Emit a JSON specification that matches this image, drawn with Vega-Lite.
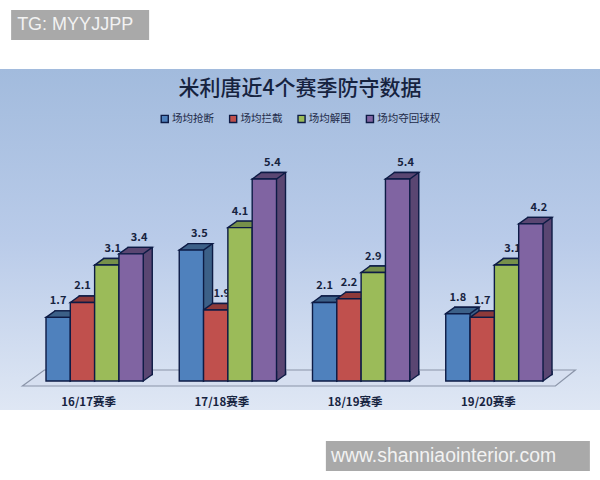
{
  "$schema": "https://vega.github.io/schema/vega-lite/v6.json",
  "width": 600,
  "height": 480,
  "padding": 0,
  "autosize": {"type": "fit", "contains": "padding"},
  "background": "white",
  "view": {"stroke": null},
  "config": {"axisY": {"disable": true}},
  "title": {
    "text": "米利唐近4个赛季防守数据",
    "font": "Noto Sans CJK SC",
    "fontSize": 21,
    "fontWeight": 500,
    "color": "#16233f",
    "anchor": "middle",
    "frame": "group",
    "baseline": "bottom",
    "offset": -120
  },
  "datasets": {
    "defense": [
      {"season": "16/17赛季", "metric": "场均抢断", "value": 1.7},
      {"season": "16/17赛季", "metric": "场均拦截", "value": 2.1},
      {"season": "16/17赛季", "metric": "场均解围", "value": 3.1},
      {"season": "16/17赛季", "metric": "场均夺回球权", "value": 3.4},
      {"season": "17/18赛季", "metric": "场均抢断", "value": 3.5},
      {"season": "17/18赛季", "metric": "场均拦截", "value": 1.9},
      {"season": "17/18赛季", "metric": "场均解围", "value": 4.1},
      {"season": "17/18赛季", "metric": "场均夺回球权", "value": 5.4},
      {"season": "18/19赛季", "metric": "场均抢断", "value": 2.1},
      {"season": "18/19赛季", "metric": "场均拦截", "value": 2.2},
      {"season": "18/19赛季", "metric": "场均解围", "value": 2.9},
      {"season": "18/19赛季", "metric": "场均夺回球权", "value": 5.4},
      {"season": "19/20赛季", "metric": "场均抢断", "value": 1.8},
      {"season": "19/20赛季", "metric": "场均拦截", "value": 1.7},
      {"season": "19/20赛季", "metric": "场均解围", "value": 3.1},
      {"season": "19/20赛季", "metric": "场均夺回球权", "value": 4.2}
    ]
  },
  "data": {"name": "defense"},
  "resolve": {"scale": {"x": "independent"}},
  "layer": [
    {
      "layer": [
        {
          "data": {"values": [{"part": "background"}]},
          "mark": {
            "type": "rect",
            "color": {
              "gradient": "linear",
              "x1": 0, "y1": 0, "x2": 0, "y2": 1,
              "stops": [
                {"offset": 0, "color": "#a2bbdd"},
                {"offset": 0.5, "color": "#b9cbe9"},
                {"offset": 1, "color": "#dfe7f4"}
              ]
            }
          },
          "encoding": {
            "y": {"datum": 8.342, "type": "quantitative", "scale": {"domain": [-2.647, 10.187], "nice": false, "zero": false}},
            "y2": {"datum": -0.775}
          }
        },
        {
          "data": {"values": [{"part": "floor"}]},
          "mark": {
            "type": "point",
            "filled": true,
            "size": 4,
            "opacity": 1,
            "shape": "M-205.5,5L-183.5,-11L347.5,-11L327.5,5Z",
            "fill": "#d6dff0",
            "stroke": "#8a94a8",
            "strokeWidth": 1.2
          },
          "encoding": {
            "x": {"datum": "17/18赛季", "type": "nominal", "axis": null, "scale": {"domain": ["16/17赛季", "17/18赛季", "18/19赛季", "19/20赛季"], "range": [28, 561], "paddingInner": 0, "paddingOuter": 0}},
            "y": {"datum": 0, "type": "quantitative", "scale": {"domain": [-2.647, 10.187], "nice": false, "zero": false}}
          }
        }
      ]
    },
    {
      "mark": {"type": "bar", "yOffset": -6.5, "stroke": "#0d1b45", "strokeWidth": 1.4},
      "encoding": {
        "x": {"field": "season", "type": "nominal", "axis": null, "scale": {"domain": ["16/17赛季", "17/18赛季", "18/19赛季", "19/20赛季"], "range": [37, 570], "paddingInner": 0, "paddingOuter": 0}},
        "xOffset": {"field": "metric", "type": "nominal", "scale": {"domain": ["场均抢断", "场均拦截", "场均解围", "场均夺回球权"], "paddingInner": 0, "paddingOuter": 0.74}},
        "y": {"field": "value", "type": "quantitative", "scale": {"domain": [-2.647, 10.187], "nice": false, "zero": false}},
        "fill": {
          "field": "metric",
          "type": "nominal",
          "legend": null,
          "scale": {
            "domain": ["场均夺回球权", "场均解围", "场均拦截", "场均抢断"],
            "range": ["#5a4672", "#76904a", "#8e3a3a", "#3c6088"]
          }
        }
      }
    },
    {
      "encoding": {
        "x": {
          "field": "season",
          "type": "nominal",
          "title": null,
          "scale": {"domain": ["16/17赛季", "17/18赛季", "18/19赛季", "19/20赛季"], "range": [28, 561], "paddingInner": 0, "paddingOuter": 0},
          "axis": {
            "orient": "bottom",
            "offset": -84,
            "domain": false,
            "ticks": false,
            "grid": false,
            "labelAngle": 0,
            "labelPadding": 0,
            "labelOffset": -6,
            "labelFont": "Noto Sans CJK SC",
            "labelFontSize": 11.5,
            "labelFontWeight": "bold",
            "labelColor": "#16233f",
            "zindex": 1
          }
        },
        "xOffset": {"field": "metric", "type": "nominal", "scale": {"domain": ["场均抢断", "场均拦截", "场均解围", "场均夺回球权"], "paddingInner": 0, "paddingOuter": 0.74}},
        "y": {"field": "value", "type": "quantitative", "scale": {"domain": [-2.647, 10.187], "nice": false, "zero": false}}
      },
      "layer": [
        {
          "mark": {
            "type": "point",
            "filled": true,
            "size": 4,
            "opacity": 1,
            "shape": "M12.15,-10L12.15,0L21.15,-6.5L21.15,-10",
            "stroke": "#0d1b45",
            "strokeWidth": 1.4
          },
          "encoding": {
            "y": {"datum": 0, "type": "quantitative", "scale": {"domain": [-2.647, 10.187], "nice": false, "zero": false}},
            "fill": {"field": "metric", "type": "nominal", "legend": null, "scale": {"domain": ["场均夺回球权", "场均解围", "场均拦截", "场均抢断"], "range": ["#5a4672", "#76904a", "#8e3a3a", "#3c6088"]}}
          }
        },
        {
          "transform": [{"filter": "datum.metric != '场均夺回球权' && datum.value != 3.5 && datum.value != 1.9 && datum.value != 3.1"}],
          "mark": {"type": "text", "font": "Noto Sans CJK SC", "fontSize": 11, "fontWeight": "bold", "color": "#16233f", "dx": 0, "dy": -16},
          "encoding": {"text": {"field": "value", "type": "quantitative", "format": ".1f"}}
        },
        {
          "transform": [{"filter": "datum.value == 1.9 || datum.value == 3.1"}],
          "mark": {"type": "text", "font": "Noto Sans CJK SC", "fontSize": 11, "fontWeight": "bold", "color": "#16233f", "dx": 6, "dy": -16},
          "encoding": {"text": {"field": "value", "type": "quantitative", "format": ".1f"}}
        },
        {
          "transform": [{"filter": "datum.metric == '场均夺回球权' || datum.value == 3.5"}],
          "mark": {"type": "text", "font": "Noto Sans CJK SC", "fontSize": 11, "fontWeight": "bold", "color": "#16233f", "dx": 8, "dy": -16},
          "encoding": {"text": {"field": "value", "type": "quantitative", "format": ".1f"}}
        },
        {
          "mark": {
            "type": "point",
            "filled": true,
            "size": 4,
            "opacity": 1,
            "shape": "M-12.15,0L-3.15,-6.5L21.15,-6.5L12.15,0Z",
            "stroke": "#0d1b45",
            "strokeWidth": 1.4
          },
          "encoding": {
            "fill": {"field": "metric", "type": "nominal", "legend": null, "scale": {"domain": ["场均夺回球权", "场均解围", "场均拦截", "场均抢断"], "range": ["#5a4672", "#76904a", "#8e3a3a", "#3c6088"]}}
          }
        },
        {
          "mark": {"type": "bar", "stroke": "#0d1b45", "strokeWidth": 1.4},
          "encoding": {
            "color": {
              "field": "metric",
              "type": "nominal",
              "title": null,
              "scale": {
                "domain": ["场均抢断", "场均拦截", "场均解围", "场均夺回球权"],
                "range": ["#4f81bd", "#c0504d", "#9bbb59", "#8064a2"]
              },
              "legend": {
                "orient": "none",
                "legendX": 159.5,
                "legendY": 113.5,
                "direction": "horizontal",
                "columns": 4,
                "columnPadding": 11.4,
                "symbolType": "square",
                "symbolSize": 50,
                "symbolStrokeColor": "#0d1b45",
                "symbolStrokeWidth": 1.4,
                "labelFont": "Noto Sans CJK SC",
                "labelFontSize": 10.5,
                "labelOffset": 2,
                "labelColor": "#1d2a48",
                "zindex": 1
              }
            }
          }
        }
      ]
    },
    {
      "layer": [
        {
          "data": {"values": [{"part": "top mark"}]},
          "mark": {
            "type": "point",
            "filled": true,
            "size": 4,
            "opacity": 1,
            "shape": "M-83.5,-15L54.5,-15L54.5,15L-83.5,15Z",
            "fill": "#a9a9a9",
            "stroke": null
          },
          "encoding": {
            "x": {"datum": "16/17赛季", "type": "nominal", "axis": null, "scale": {"domain": ["16/17赛季", "17/18赛季", "18/19赛季", "19/20赛季"], "range": [28, 561], "paddingInner": 0, "paddingOuter": 0}},
            "y": {"datum": 9.519, "type": "quantitative", "scale": {"domain": [-2.647, 10.187], "nice": false, "zero": false}}
          }
        },
        {
          "data": {"values": [{"label": "TG: MYYJJPP"}]},
          "mark": {"type": "text", "align": "left", "font": "Liberation Sans", "fontSize": 18, "color": "#f2f2f2", "dx": -77.5},
          "encoding": {
            "x": {"datum": "16/17赛季", "type": "nominal", "axis": null, "scale": {"domain": ["16/17赛季", "17/18赛季", "18/19赛季", "19/20赛季"], "range": [28, 561], "paddingInner": 0, "paddingOuter": 0}},
            "y": {"datum": 9.519, "type": "quantitative", "scale": {"domain": [-2.647, 10.187], "nice": false, "zero": false}},
            "text": {"field": "label"}
          }
        },
        {
          "data": {"values": [{"part": "bottom mark"}]},
          "mark": {
            "type": "point",
            "filled": true,
            "size": 4,
            "opacity": 1,
            "shape": "M-168.5,-15L95.5,-15L95.5,15L-168.5,15Z",
            "fill": "#a9a9a9",
            "stroke": null
          },
          "encoding": {
            "x": {"datum": "19/20赛季", "type": "nominal", "axis": null, "scale": {"domain": ["16/17赛季", "17/18赛季", "18/19赛季", "19/20赛季"], "range": [28, 561], "paddingInner": 0, "paddingOuter": 0}},
            "y": {"datum": -2.005, "type": "quantitative", "scale": {"domain": [-2.647, 10.187], "nice": false, "zero": false}}
          }
        },
        {
          "data": {"values": [{"label": "www.shanniaointerior.com"}]},
          "mark": {"type": "text", "align": "left", "font": "Liberation Sans", "fontSize": 19.4, "color": "#f2f2f2", "dx": -163.5},
          "encoding": {
            "x": {"datum": "19/20赛季", "type": "nominal", "axis": null, "scale": {"domain": ["16/17赛季", "17/18赛季", "18/19赛季", "19/20赛季"], "range": [28, 561], "paddingInner": 0, "paddingOuter": 0}},
            "y": {"datum": -2.005, "type": "quantitative", "scale": {"domain": [-2.647, 10.187], "nice": false, "zero": false}},
            "text": {"field": "label"}
          }
        }
      ]
    }
  ]
}
